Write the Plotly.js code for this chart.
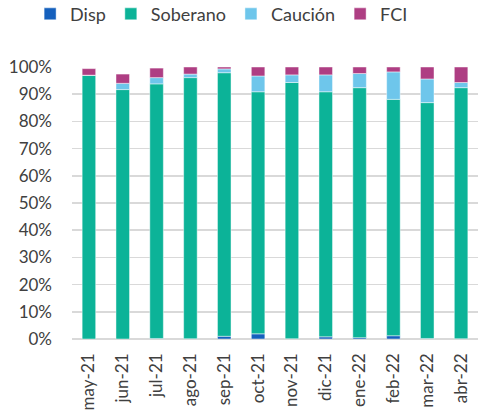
<!DOCTYPE html>
<html>
<head>
<meta charset="utf-8">
<script src="https://cdn.plot.ly/plotly-3.0.1.min.js"></script>
<style>html,body{margin:0;padding:0;background:#fff}#chart{width:478px;height:416px}</style>
</head>
<body>
<div id="chart"></div>
<script>
const months = ["may-21","jun-21","jul-21","ago-21","sep-21","oct-21","nov-21","dic-21","ene-22","feb-22","mar-22","abr-22"];
const disp     = [-0.3, -0.6, 0.2, 0.1, 1.0, 1.9, 0.1, 0.8, 0.5, 1.2, 0.2, 0.1];
const soberano = [96.9, 91.7, 93.6, 96.0, 96.9, 89.0, 94.2, 90.1, 91.9, 86.9, 86.7, 92.3];
const caucion  = [0.1, 2.3, 2.3, 1.3, 1.4, 5.8, 2.8, 6.2, 5.2, 10.1, 8.7, 1.9];
const fci      = [2.4, 3.4, 3.5, 2.6, 0.7, 3.3, 2.9, 2.9, 2.4, 1.8, 4.4, 5.7];

const names  = ["Disp","Soberano","Cauci\u00f3n","FCI"];
const colors = ["#1560BD","#0CB398","#6EC6EB","#AE3E83"];
const series = [disp, soberano, caucion, fci];

const traces = series.map((vals, i) => ({
  type: "bar",
  name: names[i],
  x: months,
  y: vals.map(v => v / 100),
  marker: {color: colors[i], line: {color: "rgba(255,255,255,0.45)", width: 1}},
  hoverinfo: "x+y+name"
}));

const font = {family: "Lato, 'Open Sans', sans-serif", color: "#404040", size: 17};
const legendFont = {family: "Lato, 'Open Sans', sans-serif", color: "#404040", size: 18};

Plotly.newPlot("chart", traces, {
  width: 478, height: 416,
  barmode: "relative",
  bargap: 0.6,
  margin: {l: 72, r: 0, t: 67, b: 77},
  paper_bgcolor: "#fff", plot_bgcolor: "#fff",
  font: font,
  showlegend: true,
  legend: {
    orientation: "h", xref: "container", yref: "container",
    x: 0.063, y: 0.966, xanchor: "left", yanchor: "middle",
    font: legendFont, traceorder: "normal", itemwidth: 30
  },
  xaxis: {
    type: "category", tickangle: -90, showgrid: false, zeroline: false,
    showline: false, ticks: "", ticklabelstandoff: 10, tickfont: font,
    fixedrange: true
  },
  yaxis: {
    range: [0, 1], dtick: 0.1, tickformat: ".0%", showgrid: true,
    gridcolor: "#d9d9d9", gridwidth: 1.5, zeroline: true,
    zerolinecolor: "#d9d9d9", zerolinewidth: 1.5, ticks: "",
    ticklabelstandoff: 19, tickfont: font, fixedrange: true
  }
}, {displayModeBar: false, staticPlot: true});
</script>
</body>
</html>
